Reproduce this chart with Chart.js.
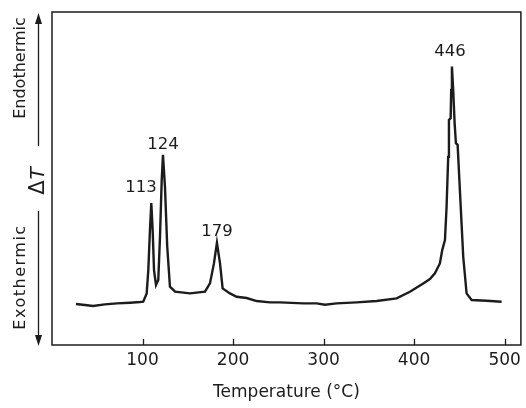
<!DOCTYPE html>
<html>
<head>
<meta charset="utf-8">
<script src="https://cdn.jsdelivr.net/npm/chart.js@4.4.1/dist/chart.umd.min.js"></script>
<style>
  html, body { margin: 0; padding: 0; background: #ffffff; }
  #wrap { width: 526px; height: 408px; position: relative; }
</style>
</head>
<body>
<div id="wrap"><canvas id="c"></canvas></div>
<script>
// ---- data (temperature in °C, ΔT in arbitrary units) ----
const temperatures = [26.5, 36.4, 45.3, 58.5, 71.8, 86.2, 97.2, 100.8, 104.6, 106.4, 108.2, 109.7, 111.2, 112.7, 114.9, 117.4, 119.3, 121.2, 122.6, 124.8, 127.3, 130.3, 135.9, 152.4, 169.0, 174.5, 178.9, 182.2, 185.6, 188.5, 196.6, 204.0, 215.0, 226.1, 240.8, 251.8, 277.6, 292.4, 301.5, 314.4, 336.5, 358.6, 380.7, 395.4, 410.1, 417.5, 423.0, 428.5, 431.1, 434.1, 435.9, 437.7, 438.5, 440.4, 441.0, 441.8, 443.2, 444.8, 446.2, 448.1, 450.6, 454.3, 458.0, 463.6, 480.1, 496.7];
const deltaT = [12.3, 12.0, 11.7, 12.2, 12.5, 12.7, 12.9, 13.0, 15.5, 22.5, 34.5, 42.6, 34.5, 22.5, 18.0, 19.5, 32.5, 49.5, 57.1, 47.5, 29.5, 17.5, 16.0, 15.5, 16.0, 18.5, 24.5, 30.7, 24.5, 17.0, 15.5, 14.5, 14.1, 13.2, 12.8, 12.8, 12.5, 12.5, 12.1, 12.5, 12.8, 13.2, 14.0, 16.0, 18.5, 19.8, 21.5, 24.5, 28.5, 31.5, 41.5, 56.5, 67.6, 68.1, 76.6, 83.6, 76.6, 66.6, 60.6, 60.1, 46.5, 26.5, 15.5, 13.5, 13.3, 13.0];

const tickValues = [100, 200, 300, 400, 500];

const peakLabels = ['113', '124', '179', '446'];
const peakLabelX = [98.3, 122.6, 182.2, 439.6];
const peakLabelY = [47.1, 60.1, 33.9, 88.0];

const xTitle = 'Temperature (\u00B0C)';
const endoLabel = 'Endothermic';
const exoLabel = 'Exothermic';

const FONT = '"DejaVu Sans", "Liberation Sans", sans-serif';
const INK = '#1c1c1c';

const decorPlugin = {
  id: 'decor',
  afterDraw(chart) {
    const ctx = chart.ctx;
    const a = chart.chartArea;
    const xs = chart.scales.x, ys = chart.scales.y;
    ctx.save();
    // frame
    ctx.strokeStyle = INK;
    ctx.lineWidth = 1.5;
    ctx.strokeRect(a.left, a.top, a.right - a.left, a.bottom - a.top);
    // inward tick marks on bottom
    ctx.lineWidth = 1.3;
    tickValues.forEach(v => {
      const px = Math.round(xs.getPixelForValue(v)) + 0.5;
      ctx.beginPath();
      ctx.moveTo(px, a.bottom);
      ctx.lineTo(px, a.bottom - 6);
      ctx.stroke();
    });
    // peak labels
    ctx.fillStyle = INK;
    ctx.font = '16.5px ' + FONT;
    ctx.textAlign = 'center';
    ctx.textBaseline = 'middle';
    peakLabels.forEach((t, i) => {
      ctx.fillText(t, xs.getPixelForValue(peakLabelX[i]), ys.getPixelForValue(peakLabelY[i]));
    });
    // left ΔT arrow
    const ax = 38.5;
    const gapTop = 146, gapBot = 211;
    ctx.lineWidth = 1.3;
    ctx.beginPath();
    ctx.moveTo(ax, a.top + 8); ctx.lineTo(ax, gapTop);
    ctx.moveTo(ax, gapBot); ctx.lineTo(ax, a.bottom - 8);
    ctx.stroke();
    ctx.beginPath();
    ctx.moveTo(ax, a.top + 1); ctx.lineTo(ax - 3.5, a.top + 12); ctx.lineTo(ax + 3.5, a.top + 12); ctx.closePath();
    ctx.fill();
    ctx.beginPath();
    ctx.moveTo(ax, a.bottom + 1); ctx.lineTo(ax - 3.5, a.bottom - 10); ctx.lineTo(ax + 3.5, a.bottom - 10); ctx.closePath();
    ctx.fill();
    // rotated texts
    ctx.save();
    ctx.translate(21, 68);
    ctx.rotate(-Math.PI / 2);
    ctx.font = '16px ' + FONT;
    ctx.fillText(endoLabel, 0, 0);
    ctx.restore();
    ctx.save();
    ctx.translate(21, 277);
    ctx.rotate(-Math.PI / 2);
    ctx.font = '16px ' + FONT;
    ctx.letterSpacing = '1.5px';
    ctx.fillText(exoLabel, 0, 0);
    ctx.letterSpacing = '0px';
    ctx.restore();
    // ΔT
    ctx.save();
    ctx.translate(39, 181);
    ctx.rotate(-Math.PI / 2);
    ctx.font = '21px ' + FONT;
    const wD = ctx.measureText('\u0394').width;
    ctx.font = 'italic 20px ' + FONT;
    const wT = ctx.measureText('T').width;
    const tot = wD + wT + 1;
    ctx.textAlign = 'left';
    ctx.font = '21px ' + FONT;
    ctx.fillText('\u0394', -tot / 2, 0);
    ctx.font = 'italic 20px ' + FONT;
    ctx.fillText('T', -tot / 2 + wD + 1, 0);
    ctx.restore();
    ctx.restore();
  }
};

new Chart(document.getElementById('c'), {
  type: 'line',
  data: {
    datasets: [{
      data: temperatures.map((t, i) => ({ x: t, y: deltaT[i] })),
      borderColor: INK,
      borderWidth: 2.4,
      pointRadius: 0,
      tension: 0,
      fill: false
    }]
  },
  options: {
    responsive: true,
    maintainAspectRatio: false,
    animation: false,
    layout: { padding: { left: 52, right: 5, top: 12, bottom: 0 } },
    plugins: { legend: { display: false }, tooltip: { enabled: false } },
    scales: {
      x: {
        type: 'linear',
        min: 0,
        max: 518,
        afterBuildTicks: s => { s.ticks = tickValues.map(v => ({ value: v })); },
        afterFit: s => { s.height = 63; },
        grid: { display: false, drawTicks: false },
        border: { display: false },
        ticks: { color: INK, font: { family: FONT, size: 17 }, padding: 5, maxRotation: 0 },
        title: { display: true, text: xTitle, color: INK, font: { family: FONT, size: 17 }, padding: { top: 0, bottom: 5 } }
      },
      y: {
        display: false,
        min: 0,
        max: 100
      }
    }
  },
  plugins: [decorPlugin]
});
</script>
</body>
</html>
